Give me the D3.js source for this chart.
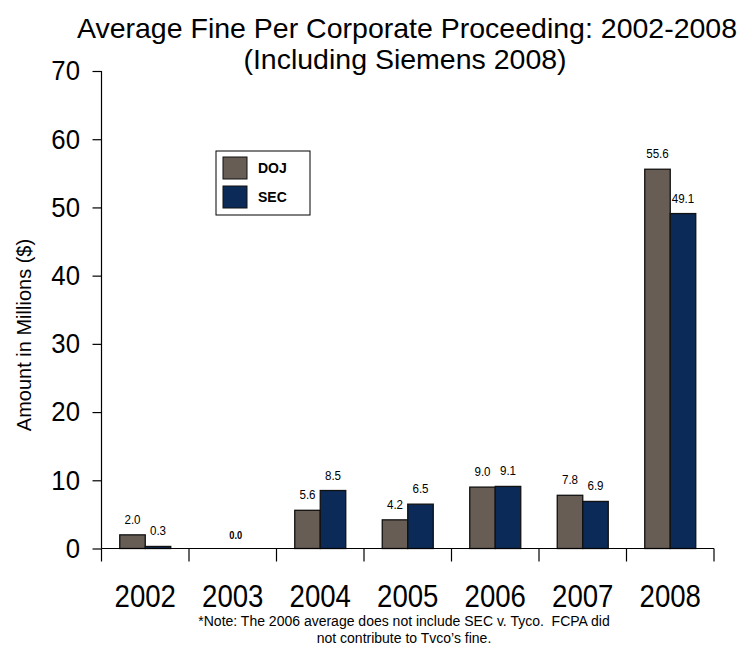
<!DOCTYPE html>
<html>
<head>
<meta charset="utf-8">
<script src="https://cdn.jsdelivr.net/npm/d3@7"></script>
<style>
  html, body { margin: 0; padding: 0; background: #fff; }
  svg { display: block; }
  text { font-family: "Liberation Sans", Arial, sans-serif; fill: #000; }
</style>
</head>
<body>
<svg id="chart" width="744" height="649"></svg>
<script>
// Average fine per corporate proceeding, millions of dollars
const years = ["2002", "2003", "2004", "2005", "2006", "2007", "2008"];
const seriesNames = ["DOJ", "SEC"];
const dojValues = [2.0, 0.0, 5.6, 4.2, 9.0, 7.8, 55.6];
const secValues = [0.3, 0.0, 8.5, 6.5, 9.1, 6.9, 49.1];
const yTicks = [0, 10, 20, 30, 40, 50, 60, 70];
const noteLines = [
  "*Note: The 2006 average does not include SEC v. Tyco.  FCPA did",
  "not contribute to Tvco\u2019s fine."
];

const colors = { DOJ: "#675d54", SEC: "#0b2a58" };

const svg = d3.select("#chart");
const plotLeft = 101.5, plotRight = 714, plotTop = 71, plotBottom = 548.5;

const x = d3.scaleBand().domain(years).range([plotLeft, plotRight]).paddingInner(0).paddingOuter(0);
const barW = 25.5;
const x1 = d3.scaleBand().domain(seriesNames).range([0, barW * 2]);
const y = d3.scaleLinear().domain([0, 70]).range([plotBottom, plotTop]);

// Condensed-looking text: horizontally squeezed glyphs anchored at (px, py)
function squeezed(sel, px, py, sx) {
  return sel.attr("x", null).attr("y", null)
    .attr("transform", `translate(${px},${py}) scale(${sx},1)`);
}

// Title
const title = svg.append("text").attr("text-anchor", "middle").attr("font-size", 28.5);
title.append("tspan").attr("x", 407).attr("y", 38).text("Average Fine Per Corporate Proceeding: 2002-2008");
title.append("tspan").attr("x", 405).attr("y", 69).text("(Including Siemens 2008)");

// Bars
const rows = years.map((yr, i) => [
  { year: yr, key: "DOJ", value: dojValues[i] },
  { year: yr, key: "SEC", value: secValues[i] }
]);

const groups = svg.append("g").selectAll("g").data(years).join("g")
  .attr("transform", d => `translate(${x(d) + x.bandwidth() / 2 - barW},0)`);

groups.each(function (yr, i) {
  const g = d3.select(this);
  const data = rows[i].filter(d => d.value > 0);
  g.selectAll("rect").data(data).join("rect")
    .attr("x", d => x1(d.key))
    .attr("y", d => y(d.value))
    .attr("width", x1.bandwidth())
    .attr("height", d => y(0) - y(d.value))
    .attr("fill", d => colors[d.key])
    .attr("stroke", "#111")
    .attr("stroke-width", 1.3);
  if (data.length) {
    g.selectAll("text.val").data(data).join("text")
      .attr("class", "val")
      .attr("text-anchor", "middle")
      .attr("font-size", 13.5)
      .text(d => d.value.toFixed(1))
      .each(function (d) {
        squeezed(d3.select(this), x1(d.key) + x1.bandwidth() / 2, y(d.value) - 11, 0.86);
      });
  } else {
    squeezed(g.append("text").attr("class", "val")
      .attr("text-anchor", "middle")
      .attr("font-size", 11)
      .attr("font-weight", "bold")
      .text(rows[i][0].value.toFixed(1)), barW + 3, y(0) - 10, 0.85);
  }
});

// Y axis
const tickLen = 9, tickPad = 12.5;
const yAxis = svg.append("g").attr("transform", `translate(${plotLeft},0)`)
  .call(d3.axisLeft(y).tickValues(yTicks).tickSize(tickLen).tickPadding(tickPad).tickFormat(d3.format("d")));
yAxis.select(".domain").attr("stroke", "#000").attr("stroke-width", 1.2).attr("d", `M0,${plotTop}V${plotBottom}`);
yAxis.selectAll(".tick line").attr("stroke", "#000").attr("stroke-width", 1.2);
yAxis.selectAll(".tick text")
  .attr("font-size", 28).attr("fill", "#000").attr("dy", "0.35em")
  .attr("x", 0)
  .attr("transform", `translate(${-(tickLen + tickPad)},-1) scale(0.92,1)`);

// X axis with tick marks at band boundaries
const xAxis = svg.append("g").attr("transform", `translate(0,${plotBottom})`);
xAxis.append("line").attr("x1", plotLeft).attr("x2", plotRight).attr("stroke", "#000").attr("stroke-width", 1.2);
const bounds = years.map(d => x(d)).concat([plotRight]);
xAxis.selectAll("line.tk").data(bounds).join("line").attr("class", "tk")
  .attr("x1", d => d).attr("x2", d => d).attr("y1", 0).attr("y2", 13)
  .attr("stroke", "#000").attr("stroke-width", 1.2);
xAxis.selectAll("text").data(years).join("text")
  .attr("text-anchor", "middle").attr("font-size", 31).text(d => d)
  .each(function (d) {
    squeezed(d3.select(this), x(d) + x.bandwidth() / 2, 58.5, 0.89);
  });

// Y axis title
svg.append("text")
  .attr("transform", "translate(31,335) rotate(-90)")
  .attr("text-anchor", "middle").attr("font-size", 20).text("Amount in Millions ($)");

// Legend
const legend = svg.append("g").attr("transform", "translate(216,151)");
legend.append("rect").attr("width", 94).attr("height", 64).attr("fill", "#fff").attr("stroke", "#000").attr("stroke-width", 1);
seriesNames.forEach((name, i) => {
  legend.append("rect").attr("x", 7).attr("y", 6 + i * 29).attr("width", 24).attr("height", 22)
    .attr("fill", colors[name]).attr("stroke", "#111").attr("stroke-width", 1);
  legend.append("text").attr("x", 42).attr("y", 22 + i * 29)
    .attr("font-size", 14).attr("font-weight", "bold").text(name);
});

// Footnote
svg.append("g").selectAll("text").data(noteLines).join("text")
  .attr("x", 404).attr("y", (d, i) => 626 + i * 17).attr("text-anchor", "middle")
  .attr("font-size", 14).style("white-space", "pre").text(d => d);
</script>
</body>
</html>
